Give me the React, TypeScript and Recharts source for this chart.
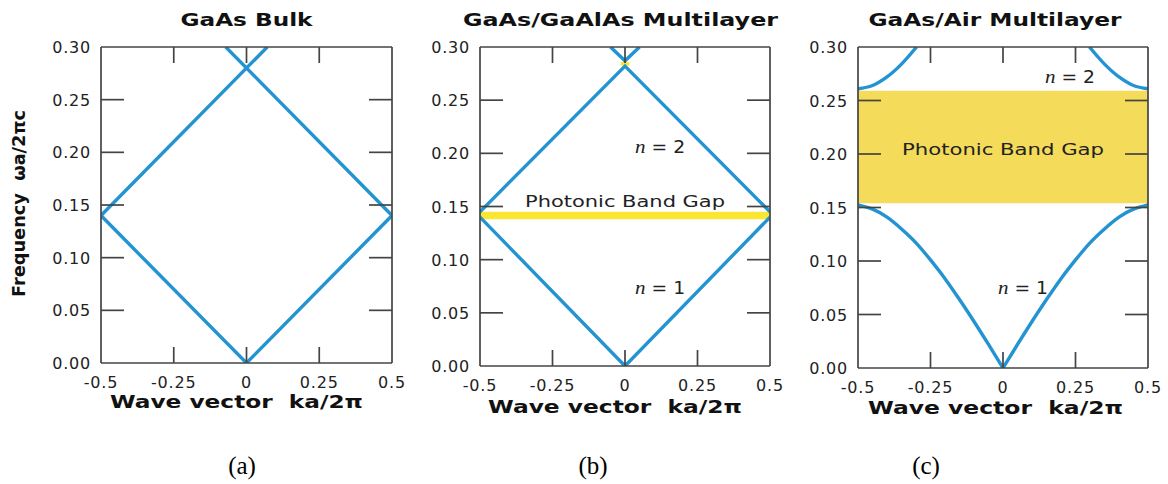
import React from "react";
import { LineChart, Line, XAxis, YAxis, ReferenceArea, ReferenceDot } from "recharts";

// ---------- tick values and labels ----------
const xTicks = [-0.5, -0.25, 0, 0.25, 0.5];
const xTickLabels = ["-0.5", "-0.25", "0", "0.25", "0.5"];
const yTicks = [0, 0.05, 0.1, 0.15, 0.2, 0.25, 0.3];
const yTickLabels = ["0.00", "0.05", "0.10", "0.15", "0.20", "0.25", "0.30"];

// ---------- panel (a): GaAs bulk ----------
const bulkLowerK = [-0.5, 0, 0.5];
const bulkLowerW = [0.14, 0, 0.14];
const bulkRiseK = [-0.5, 0.0714];
const bulkRiseW = [0.14, 0.3];
const bulkFallK = [-0.0714, 0.5];
const bulkFallW = [0.3, 0.14];

// ---------- panel (b): GaAs/GaAlAs multilayer ----------
const mlLowerK = [-0.5, 0, 0.5];
const mlLowerW = [0.14, 0, 0.14];
const mlUpperK = [-0.5, 0, 0.5];
const mlUpperW = [0.145, 0.282, 0.145];
const mlTopK = [-0.05, 0, 0.05];
const mlTopW = [0.3, 0.287, 0.3];
const mlGapW = [0.138, 0.145];
const mlTopGapK = [-0.015, 0.015];
const mlTopGapW = [0.2825, 0.2858];

// ---------- panel (c): GaAs/Air multilayer ----------
const airLowerLeftK = [-0.5, -0.45, -0.4, -0.35, -0.3, -0.25, -0.2, -0.15, -0.1, -0.05, 0];
const airLowerLeftW = [0.1525, 0.1485, 0.141, 0.13, 0.117, 0.101, 0.0835, 0.064, 0.0435, 0.022, 0];
const airLowerRightK = [0, 0.05, 0.1, 0.15, 0.2, 0.25, 0.3, 0.35, 0.4, 0.45, 0.5];
const airLowerRightW = [0, 0.022, 0.0435, 0.064, 0.0835, 0.101, 0.117, 0.13, 0.141, 0.1485, 0.1525];
const airUpperLeftK = [-0.5, -0.45, -0.4, -0.35, -0.298];
const airUpperLeftW = [0.261, 0.264, 0.272, 0.284, 0.3];
const airUpperRightK = [0.298, 0.35, 0.4, 0.45, 0.5];
const airUpperRightW = [0.3, 0.284, 0.272, 0.264, 0.261];
const airGapW = [0.154, 0.259];

// ---------- styles ----------
const BLUE = "#2394d1";
const YELLOW_B = "#fae633";
const YELLOW_C = "#f4db5a";
const AXIS = "#444444";
const TEXT = "#222222";
const SANS = "'DejaVu Sans', Verdana, sans-serif";
const SERIF = "'Liberation Serif', 'Times New Roman', serif";
const H = 484;
const TOP = 47;
const X_TICK_LEN = 16;
const Y_TICK_LEN = 23;

type P = { x: number; y: number };
const pts = (k: number[], w: number[]): P[] => k.map((x, i) => ({ x, y: w[i] }));

interface Note {
  x: number;
  y: number;
  kind: "gap" | "n";
  text: string;
  len: number;
}
interface Area {
  x1?: number;
  x2?: number;
  y1: number;
  y2: number;
  fill: string;
}
interface PanelDef {
  left: number;
  width: number;
  plotLeft: number;
  plotRight: number;
  plotBottom: number;
  title: string;
  titleLen: number;
  titleDx: number;
  xLabelDx: number;
  xLabelDy: number;
  xLabelLen: number;
  sub: string;
  subX: number;
  bands: { data: P[]; curve: "linear" | "monotone" | "natural" }[];
  areas: Area[];
  notes: Note[];
  yLabel?: boolean;
}

const panels: PanelDef[] = [
  {
    left: 0,
    width: 420,
    plotLeft: 101,
    plotRight: 392,
    plotBottom: 363,
    title: "GaAs Bulk",
    titleLen: 132,
    titleDx: 0,
    xLabelDx: -10,
    xLabelDy: 45,
    xLabelLen: 253,
    sub: "(a)",
    subX: 242,
    bands: [
      { data: pts(bulkLowerK, bulkLowerW), curve: "linear" },
      { data: pts(bulkRiseK, bulkRiseW), curve: "linear" },
      { data: pts(bulkFallK, bulkFallW), curve: "linear" },
    ],
    areas: [],
    notes: [],
    yLabel: true,
  },
  {
    left: 420,
    width: 370,
    plotLeft: 480,
    plotRight: 770,
    plotBottom: 366,
    title: "GaAs/GaAlAs Multilayer",
    titleLen: 315,
    titleDx: -4.5,
    xLabelDx: -10,
    xLabelDy: 47,
    xLabelLen: 254,
    sub: "(b)",
    subX: 593,
    bands: [
      { data: pts(mlLowerK, mlLowerW), curve: "linear" },
      { data: pts(mlUpperK, mlUpperW), curve: "linear" },
      { data: pts(mlTopK, mlTopW), curve: "linear" },
    ],
    areas: [
      { y1: mlGapW[0], y2: mlGapW[1], fill: YELLOW_B },
      { x1: mlTopGapK[0], x2: mlTopGapK[1], y1: mlTopGapW[0], y2: mlTopGapW[1], fill: YELLOW_B },
    ],
    notes: [
      { x: 0, y: 0.1545, kind: "gap", text: "Photonic Band Gap", len: 200 },
      { x: 0.121, y: 0.206, kind: "n", text: "2", len: 50 },
      { x: 0.121, y: 0.0733, kind: "n", text: "1", len: 50 },
    ],
  },
  {
    left: 790,
    width: 378,
    plotLeft: 858,
    plotRight: 1148,
    plotBottom: 368,
    title: "GaAs/Air Multilayer",
    titleLen: 253,
    titleDx: -8,
    xLabelDx: -7.5,
    xLabelDy: 46,
    xLabelLen: 255,
    sub: "(c)",
    subX: 926,
    bands: [
      { data: pts(airLowerLeftK, airLowerLeftW), curve: "natural" },
      { data: pts(airLowerRightK, airLowerRightW), curve: "natural" },
      { data: pts(airUpperLeftK, airUpperLeftW), curve: "monotone" },
      { data: pts(airUpperRightK, airUpperRightW), curve: "monotone" },
    ],
    areas: [{ y1: airGapW[0], y2: airGapW[1], fill: YELLOW_C }],
    notes: [
      { x: 0, y: 0.2044, kind: "gap", text: "Photonic Band Gap", len: 202 },
      { x: 0.231, y: 0.272, kind: "n", text: "2", len: 50 },
      { x: 0.069, y: 0.0745, kind: "n", text: "1", len: 50 },
    ],
  },
];

// ---------- tick renderers ----------
const tickText = {
  fontFamily: SANS,
  fontSize: 16,
  letterSpacing: 0.8,
  fill: TEXT,
} as const;

const BottomTick = (props: any) => {
  const { x, y, payload } = props;
  const i = xTicks.indexOf(payload.value);
  const edge = i === 0 || i === xTicks.length - 1;
  return (
    <g>
      {!edge && <line x1={x} x2={x} y1={y} y2={y - X_TICK_LEN} stroke={AXIS} strokeWidth={1.7} />}
      <text x={x} y={y + 25} textAnchor="middle" {...tickText}>
        {xTickLabels[i]}
      </text>
    </g>
  );
};
const TopTick = (props: any) => {
  const { x, y, payload } = props;
  const i = xTicks.indexOf(payload.value);
  const edge = i === 0 || i === xTicks.length - 1;
  return edge ? <g /> : <line x1={x} x2={x} y1={y} y2={y + X_TICK_LEN} stroke={AXIS} strokeWidth={1.7} />;
};
const LeftTick = (props: any) => {
  const { x, y, payload } = props;
  const i = yTicks.indexOf(payload.value);
  const edge = i === 0 || i === yTicks.length - 1;
  return (
    <g>
      {!edge && <line x1={x} x2={x + Y_TICK_LEN} y1={y} y2={y} stroke={AXIS} strokeWidth={1.7} />}
      <text x={x - 10} y={y + 6} textAnchor="end" {...tickText}>
        {yTickLabels[i]}
      </text>
    </g>
  );
};
const RightTick = (props: any) => {
  const { x, y, payload } = props;
  const i = yTicks.indexOf(payload.value);
  const edge = i === 0 || i === yTicks.length - 1;
  return edge ? <g /> : <line x1={x} x2={x - Y_TICK_LEN} y1={y} y2={y} stroke={AXIS} strokeWidth={1.7} />;
};

// ---------- annotation renderer ----------
const makeNote = (n: Note) => (p: any) => {
  const { cx, cy } = p;
  if (n.kind === "gap") {
    return (
      <text
        x={cx}
        y={cy + 5.5}
        textAnchor="middle"
        fontFamily={SANS}
        fontSize={15}
        fill={TEXT}
        textLength={n.len}
        lengthAdjust="spacingAndGlyphs"
      >
        {n.text}
      </text>
    );
  }
  return (
    <text
      x={cx - n.len / 2}
      y={cy + 6}
      fill={TEXT}
      textLength={n.len}
      lengthAdjust="spacingAndGlyphs"
      style={{ whiteSpace: "pre" }}
    >
      <tspan fontFamily={SERIF} fontStyle="italic" fontSize={19}>
        n
      </tspan>
      <tspan fontFamily={SANS} fontSize={17}>
        {" = " + n.text}
      </tspan>
    </text>
  );
};

function Panel({ d }: { d: PanelDef }) {
  const yAxisW = 40;
  const xAxisH = 90;
  const margin = {
    top: TOP - 1,
    left: d.plotLeft - d.left - yAxisW,
    right: d.left + d.width - d.plotRight - 1,
    bottom: H - d.plotBottom - xAxisH,
  };
  const cx = (d.plotLeft + d.plotRight) / 2 - d.left;

  const titleLabel = () => (
    <text
      x={cx + d.titleDx}
      y={TOP - 21}
      textAnchor="middle"
      fontFamily={SANS}
      fontWeight="bold"
      fontSize={18}
      fill="#111"
      textLength={d.titleLen}
      lengthAdjust="spacingAndGlyphs"
    >
      {d.title}
    </text>
  );
  const bottomLabel = () => (
    <g>
      <text
        x={cx + d.xLabelDx}
        y={d.plotBottom + d.xLabelDy}
        textAnchor="middle"
        fontFamily={SANS}
        fontWeight="bold"
        fontSize={17}
        fill="#111"
        textLength={d.xLabelLen}
        lengthAdjust="spacingAndGlyphs"
        style={{ whiteSpace: "pre" }}
      >
        {"Wave vector  ka/2π"}
      </text>
      <text x={d.subX - d.left} y={474} textAnchor="middle" fontFamily={SERIF} fontSize={25} fill="#000">
        {d.sub}
      </text>
    </g>
  );
  const leftLabel = () =>
    d.yLabel ? (
      <text
        x={25}
        y={203.5}
        transform="rotate(-90, 25, 203.5)"
        textAnchor="middle"
        fontFamily={SANS}
        fontWeight="bold"
        fontSize={18}
        fill="#111"
        textLength={187}
        lengthAdjust="spacingAndGlyphs"
        style={{ whiteSpace: "pre" }}
      >
        {"Frequency  ωa/2πc"}
      </text>
    ) : (
      <g />
    );

  return (
    <div style={{ position: "absolute", left: d.left, top: 0, width: d.width, height: H }}>
      <LineChart width={d.width} height={H} margin={margin}>
        {d.areas.map((a, i) => (
          <ReferenceArea
            key={"a" + i}
            x1={a.x1}
            x2={a.x2}
            y1={a.y1}
            y2={a.y2}
            fill={a.fill}
            fillOpacity={1}
            stroke="none"
            ifOverflow="extendDomain"
          />
        ))}
        <XAxis
          dataKey="x"
          type="number"
          domain={[-0.5, 0.5]}
          ticks={xTicks}
          interval={0}
          allowDataOverflow
          height={xAxisH}
          tickSize={0}
          tickMargin={0}
          tick={BottomTick}
          axisLine={{ stroke: AXIS, strokeWidth: 1.7 }}
          label={{ content: bottomLabel }}
        />
        <XAxis
          xAxisId="top"
          orientation="top"
          dataKey="x"
          type="number"
          domain={[-0.5, 0.5]}
          ticks={xTicks}
          interval={0}
          allowDataOverflow
          height={1}
          tickSize={0}
          tickMargin={0}
          tick={TopTick}
          axisLine={{ stroke: AXIS, strokeWidth: 1.7 }}
          label={{ content: titleLabel }}
        />
        <YAxis
          type="number"
          domain={[0, 0.3]}
          ticks={yTicks}
          interval={0}
          allowDataOverflow
          width={yAxisW}
          tickSize={0}
          tickMargin={0}
          tick={LeftTick}
          axisLine={{ stroke: AXIS, strokeWidth: 1.7 }}
          label={{ content: leftLabel }}
        />
        <YAxis
          yAxisId="right"
          orientation="right"
          type="number"
          domain={[0, 0.3]}
          ticks={yTicks}
          interval={0}
          allowDataOverflow
          width={1}
          tickSize={0}
          tickMargin={0}
          tick={RightTick}
          axisLine={{ stroke: AXIS, strokeWidth: 1.7 }}
        />
        {d.bands.map((b, i) => (
          <Line
            key={"b" + i}
            data={b.data}
            dataKey="y"
            type={b.curve}
            stroke={BLUE}
            strokeWidth={3.4}
            dot={false}
            activeDot={false}
            isAnimationActive={false}
          />
        ))}
        {d.notes.map((n, i) => (
          <ReferenceDot key={"n" + i} x={n.x} y={n.y} r={1} fill="none" stroke="none" shape={makeNote(n)} />
        ))}
      </LineChart>
    </div>
  );
}

export default function App() {
  return (
    <div style={{ position: "absolute", left: 0, top: 0, width: 1168, height: H, background: "#fff" }}>
      {panels.map((d, i) => (
        <Panel key={i} d={d} />
      ))}
    </div>
  );
}
